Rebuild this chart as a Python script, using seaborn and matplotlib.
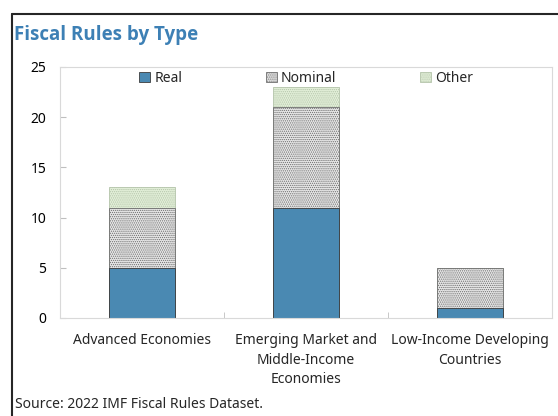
import seaborn as sns
import pandas as pd
import matplotlib.pyplot as plt
from matplotlib.patches import Patch
from matplotlib.lines import Line2D

# Fiscal rules by type, counts
groups = ["Advanced Economies",
          "Emerging Market and\nMiddle-Income\nEconomies",
          "Low-Income Developing\nCountries"]
real = [5, 11, 1]
nominal = [6, 10, 4]
other = [2, 2, 0]

df = pd.DataFrame({"group": groups, "Real": real, "Nominal": nominal, "Other": other})
df["real_nom"] = df["Real"] + df["Nominal"]
df["total"] = df["real_nom"] + df["Other"]

sns.set_style("white")
plt.rcParams["font.family"] = ["Noto Sans", "DejaVu Sans"]
plt.rcParams["hatch.linewidth"] = 0.6

blue = "#4A89B2"
green = "#E2EFD8"
gray = "#E6E6E6"

fig = plt.figure(figsize=(5.58, 4.16), dpi=100)
ax = fig.add_axes([0.1075, 0.2356, 0.8815, 0.6034])

# stacked look: draw the tallest layer first, then cover it
sns.barplot(data=df, x="group", y="total", color=green, width=0.4, ax=ax,
            saturation=1, edgecolor="#B4C4AA", linewidth=0.6, hatch="........")
sns.barplot(data=df, x="group", y="real_nom", color=gray, width=0.4, ax=ax,
            saturation=1, edgecolor="#6E6E6E", linewidth=0.6, hatch="........")
sns.barplot(data=df, x="group", y="Real", color=blue, width=0.4, ax=ax,
            saturation=1, edgecolor="#3C3C3C", linewidth=0.6)

ax.set_ylim(0, 25)
ax.set_xlim(-0.5, 2.5)
ax.set_yticks(range(0, 26, 5))
ax.set_xlabel("")
ax.set_ylabel("")
for s in ax.spines.values():
    s.set_color("#D9D9D9")
    s.set_visible(True)
ax.tick_params(axis="y", direction="in", length=4, color="#BFBFBF", pad=10,
               labelsize=10, labelcolor="black", left=True)
ax.tick_params(axis="x", which="major", length=0, pad=11, labelsize=10)
for lab in ax.get_xticklabels():
    lab.set_linespacing(1.4)
ax.set_xticks([0.5, 1.5], minor=True)
ax.tick_params(axis="x", which="minor", direction="in", length=4,
               color="#BFBFBF", bottom=True)

handles = [
    Patch(facecolor=blue, edgecolor="#3C3C3C", linewidth=0.6, label="Real"),
    Patch(facecolor=gray, edgecolor="#6E6E6E", linewidth=0.6, hatch="........", label="Nominal"),
    Patch(facecolor=green, edgecolor="#B4C4AA", linewidth=0.6, hatch="........", label="Other"),
]
ax.legend(handles=handles, loc="upper center", ncol=3, frameon=False,
          fontsize=10, handlelength=0.8, handleheight=0.8, handletextpad=0.3,
          columnspacing=6.0, bbox_to_anchor=(0.5, 1.035))

fig.text(0.025, 0.915, "Fiscal Rules by Type", fontsize=13.5, fontweight="bold",
         family="Open Sans", color="#3D80B5", va="center")
fig.text(0.027, 0.027, "Source: 2022 IMF Fiscal Rules Dataset.", fontsize=10,
         va="center")

# outer frame, top and left only
fig.add_artist(Line2D([0.0215, 1.0], [0.966, 0.966], color="#262626", lw=1.5,
                      transform=fig.transFigure))
fig.add_artist(Line2D([0.0215, 0.0215], [0.0, 0.966], color="#262626", lw=1.5,
                      transform=fig.transFigure))

fig.savefig("out.png", dpi=100)
